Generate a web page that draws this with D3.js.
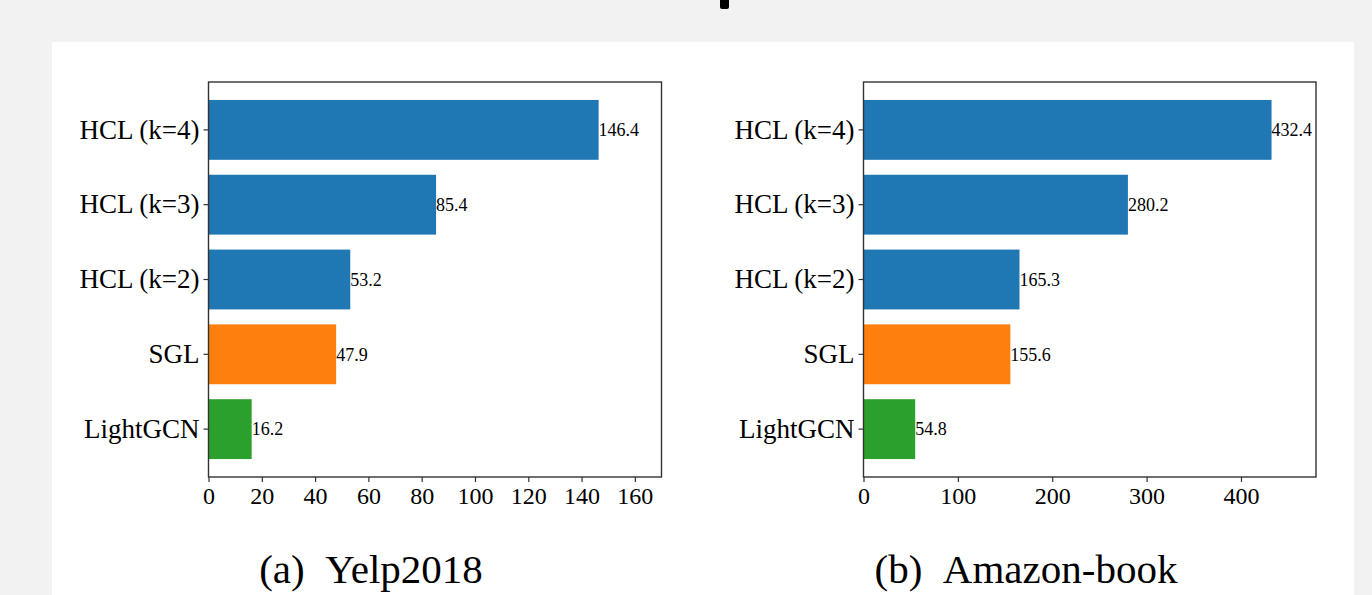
<!DOCTYPE html>
<html>
<head>
<meta charset="utf-8">
<script src="https://cdn.jsdelivr.net/npm/d3@7"></script>
<style>
  html, body { margin: 0; padding: 0; background: #f2f2f2; }
  svg { display: block; }
  text { font-family: "Liberation Serif", "Times New Roman", serif; fill: #000; }
</style>
</head>
<body>
<svg id="chart" width="1372" height="595"></svg>
<script>
// Methods, listed bottom to top
const methods = ["LightGCN", "SGL", "HCL (k=2)", "HCL (k=3)", "HCL (k=4)"];
const barColors = ["#2ca02c", "#ff7f0e", "#1f77b4", "#1f77b4", "#1f77b4"];

// Training time per dataset
const yelpValues = [16.2, 47.9, 53.2, 85.4, 146.4];
const amazonValues = [54.8, 155.6, 165.3, 280.2, 432.4];

const yelpTicks = [0, 20, 40, 60, 80, 100, 120, 140, 160];
const amazonTicks = [0, 100, 200, 300, 400];

const panels = [
  { title: "(a)\u00a0\u00a0Yelp2018", values: yelpValues, ticks: yelpTicks, xMax: 170,
    left: 208.5, right: 661.5, titleX: 371 },
  { title: "(b)\u00a0\u00a0Amazon-book", values: amazonValues, ticks: amazonTicks, xMax: 479.5,
    left: 863.5, right: 1316, titleX: 1026 }
];

const svg = d3.select("#chart");

// white page area
svg.append("rect").attr("x", 52).attr("y", 42).attr("width", 1302).attr("height", 560).attr("fill", "#fff");

// clipped glyph of the heading above
svg.append("rect").attr("x", 720).attr("y", -4).attr("width", 9).attr("height", 13)
  .attr("rx", 2).attr("fill", "#000");

const plotTop = 82, plotBottom = 477;

panels.forEach(p => {
  const x = d3.scaleLinear().domain([0, p.xMax]).range([p.left, p.right]);
  const y = d3.scaleBand().domain(methods.slice().reverse()).range([plotTop, plotBottom])
    .paddingInner(0.2).paddingOuter(0.24);

  const g = svg.append("g");

  g.selectAll("rect.bar").data(methods).join("rect")
    .attr("class", "bar")
    .attr("x", x(0))
    .attr("y", d => y(d))
    .attr("width", (d, i) => x(p.values[i]) - x(0))
    .attr("height", y.bandwidth())
    .attr("fill", (d, i) => barColors[i]);

  g.selectAll("text.val").data(methods).join("text")
    .attr("class", "val")
    .attr("x", (d, i) => x(p.values[i]))
    .attr("y", d => y(d) + y.bandwidth() / 2)
    .attr("dy", "0.35em")
    .attr("font-size", 18)
    .text((d, i) => p.values[i].toFixed(1));

  // frame
  g.append("rect").attr("x", p.left).attr("y", plotTop)
    .attr("width", p.right - p.left).attr("height", plotBottom - plotTop)
    .attr("fill", "none").attr("stroke", "#333").attr("stroke-width", 1.4);

  const xAxis = g.append("g").attr("transform", `translate(0,${plotBottom})`)
    .call(d3.axisBottom(x).tickValues(p.ticks).tickSize(5).tickPadding(5).tickFormat(d3.format("d")));
  xAxis.select(".domain").remove();
  xAxis.selectAll("line").attr("stroke", "#333").attr("stroke-width", 1.2);
  xAxis.selectAll("text").attr("font-size", 24).attr("font-family", "Liberation Serif");

  const yAxis = g.append("g").attr("transform", `translate(${p.left},0)`)
    .call(d3.axisLeft(y).tickSize(5).tickPadding(4));
  yAxis.select(".domain").remove();
  yAxis.selectAll("line").attr("stroke", "#333").attr("stroke-width", 1.2);
  yAxis.selectAll("text").attr("font-size", 27).attr("font-family", "Liberation Serif");

  svg.append("text").attr("x", p.titleX).attr("y", 583)
    .attr("text-anchor", "middle").attr("font-size", 41)
    .text(p.title);
});
</script>
</body>
</html>
